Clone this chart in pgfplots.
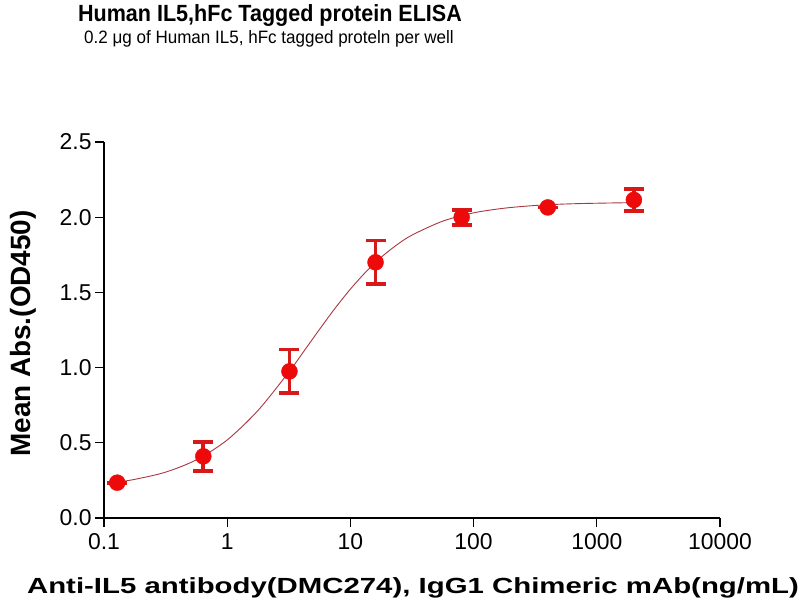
\documentclass[border=0pt]{standalone}
\usepackage{pgfplots}
\pgfplotsset{compat=1.18}
\usepackage{fontspec}
\setmainfont{Liberation Sans}

\definecolor{ptred}{RGB}{236,10,10}
\definecolor{barred}{RGB}{215,25,25}
\definecolor{fitred}{RGB}{170,55,65}

\begin{document}
\begin{tikzpicture}[x=1bp,y=1bp]
\useasboundingbox (0,0) rectangle (800,-600);

% titles
\node[anchor=base, font=\bfseries\fontsize{23.5}{27}\selectfont] at (270,-22) {\scalebox{0.92}[1]{Human IL5,hFc Tagged protein ELISA}};
\node[anchor=base, font=\fontsize{18}{21}\selectfont] at (269,-43.3) {\scalebox{0.95}[1]{0.2 μg of Human IL5, hFc tagged proteln per well}};

\begin{axis}[
    at={(104bp,-518bp)}, anchor=south west,
    scale only axis,
    width=616bp, height=376bp,
    xmode=log, log basis x=10,
    xmin=0.1, xmax=10000,
    ymin=0, ymax=2.5,
    xtick={0.1,1,10,100,1000,10000},
    xticklabels={0.1,1,10,100,1000,10000},
    ytick={0,0.5,1,1.5,2,2.5},
    yticklabel style={/pgf/number format/fixed, /pgf/number format/fixed zerofill, /pgf/number format/precision=1},
    /pgf/number format/assume math mode=true,
    xminorticks=false,
    axis x line*=bottom, axis y line*=left,
    axis line style={black, line width=1.3bp, -},
    tick style={black, line width=1.3bp},
    tick align=outside,
    major tick length=9bp,
    ticklabel style={font=\fontsize{23}{26}\selectfont},
    xticklabel style={yshift=-3bp},
    clip=false,
]
% fitted 4PL curve
\addplot[fitred, line width=0.9bp, smooth] coordinates {
    (0.128,0.239) (0.1778,0.257) (0.3162,0.305) (0.5623,0.387) (1,0.519)
    (1.778,0.715) (3.162,0.970) (4.217,1.112) (5.623,1.255) (7.499,1.394)
    (10,1.522) (13.34,1.636) (17.78,1.734) (23.71,1.815) (31.62,1.881)
    (56.23,1.974) (100,2.029) (177.8,2.060) (316.2,2.078) (562.3,2.088)
    (1000,2.093) (2000,2.097)
};
% error bars
\addplot[draw=none, mark=none, forget plot,
    error bars/.cd, y dir=both, y explicit,
    error bar style={barred, line width=3.8bp},
    error mark options={barred, line width=3.8bp, mark size=10bp, rotate=90}
] coordinates {
    (0.128,0.235) +- (0,0.0)
    (0.64,0.41) +- (0,0.095)
    (3.2,0.975) +- (0,0.145)
    (16,1.70) +- (0,0.145)
    (80,2.00) +- (0,0.05)
    (400,2.065) +- (0,0.0)
    (2000,2.115) +- (0,0.075)
};
% mean points
\addplot[only marks, mark=*, mark size=8bp, mark options={fill=ptred, draw=ptred}] coordinates {
    (0.128,0.235) (0.64,0.41) (3.2,0.975) (16,1.70) (80,2.00) (400,2.065) (2000,2.115)
};
\end{axis}

% axis labels
\node[anchor=base, font=\bfseries\fontsize{22}{26}\selectfont] at (413,-593) {\scalebox{1.34}[1]{Anti-IL5 antibody(DMC274), IgG1 Chimeric mAb(ng/mL)}};
\node[anchor=base, rotate=90, font=\bfseries\fontsize{28}{32}\selectfont] at (30,-333.5) {Mean Abs.(OD450)};
\end{tikzpicture}
\end{document}
